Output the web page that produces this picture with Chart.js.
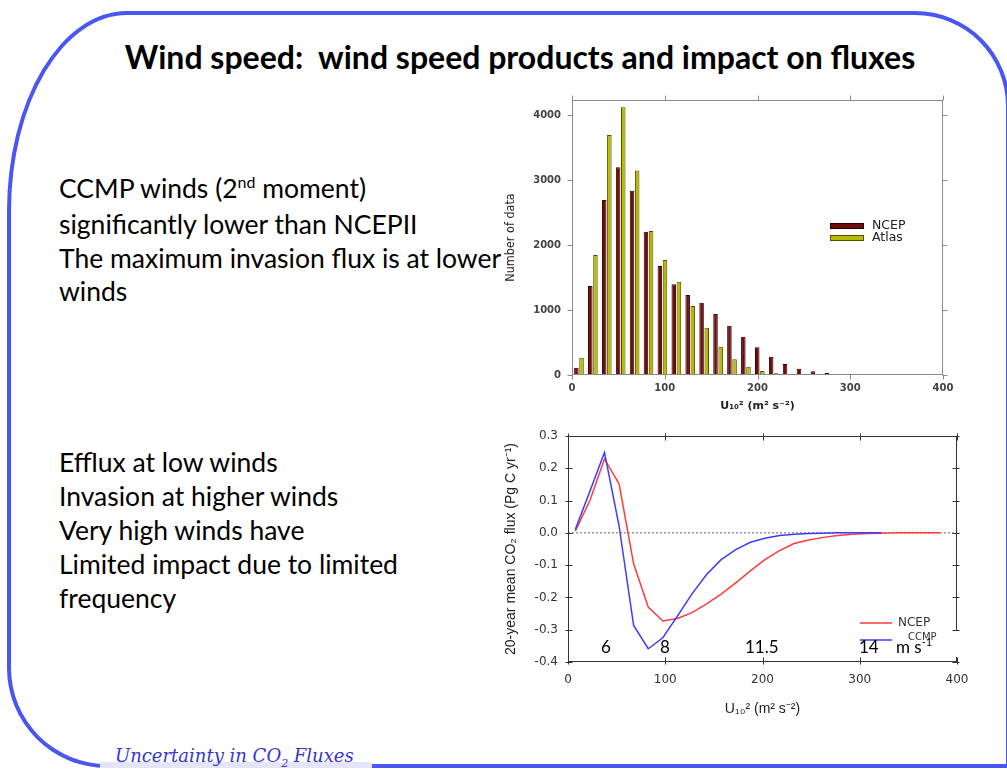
<!DOCTYPE html>
<html>
<head>
<meta charset="utf-8">
<script src="https://cdn.jsdelivr.net/npm/chart.js@4.4.1/dist/chart.umd.min.js"></script>
<style>
  html, body { margin: 0; padding: 0; background: #fff; }
  body { width: 1007px; height: 769px; position: relative; overflow: hidden; font-family: Lato, 'Open Sans', sans-serif; color: #000; }
  .frame { position: absolute; left: 7px; top: 11px; width: 1003px; height: 757px; box-sizing: border-box;
           border: 4px solid #4a56f2; border-radius: 120px 95px 0 100px / 200px 95px 0 100px; }
  .title { position: absolute; left: 0; width: 1040px; top: 37px; text-align: center; font-weight: bold; font-size: 32px; white-space: nowrap; }
  .txt { position: absolute; left: 59px; font-size: 26.5px; white-space: nowrap; }
  .txt sup { font-size: 16px; vertical-align: 0; position: relative; top: -10px; }
  .foot-bg { position: absolute; left: 100px; top: 762px; width: 272px; height: 6px; background: #e4e4fb; }
  .foot { position: absolute; left: 115px; top: 745px; font: italic 18px 'DejaVu Serif', serif; color: #3535d5; white-space: nowrap; }
  .wrap { position: absolute; }
  .note { position: absolute; top: 637px; font-size: 17px; line-height: 20px; white-space: nowrap; }
  .note sup { font-size: 11px; vertical-align: 0; position: relative; top: -7px; }
  .mask { position: absolute; left: 945px; top: 631px; width: 16px; height: 26px; background: #fff; }
</style>
</head>
<body>
<div class="frame"></div>
<div class="title">Wind speed:&nbsp; wind speed products and impact on fluxes</div>

<div class="txt" style="top:172px; line-height:33.3px;">
  CCMP winds (2<sup>nd</sup> moment)<br>
  significantly lower than NCEPII<br>
  The maximum invasion flux is at lower<br>
  winds
</div>
<div class="txt" style="top:445px; line-height:34px;">
  Efflux at low winds<br>
  Invasion at higher winds<br>
  Very high winds have<br>
  Limited impact due to limited<br>
  frequency
</div>

<div class="wrap" style="left:480px; top:90px;"><canvas id="hist" width="490" height="330"></canvas></div>
<div class="wrap" style="left:480px; top:420px;"><canvas id="flux" width="490" height="300"></canvas></div>

<div class="note" style="left:601px;">6</div>
<div class="note" style="left:660px;">8</div>
<div class="note" style="left:745px;">11.5</div>
<div class="mask"></div>
<div class="note" style="left:859px;">14</div>
<div class="note" style="left:896px;">m s<sup>-1</sup></div>

<div class="foot-bg"></div>
<div class="foot">Uncertainty in CO<sub style="font-size:11px">2</sub> Fluxes</div>

<script>
// U10^2 bin centres (m2 s-2), 15-wide bins
const binCenters = [7.5, 22.5, 37.5, 52.5, 67.5, 82.5, 97.5, 112.5, 127.5, 142.5, 157.5, 172.5, 187.5,
                    202.5, 217.5, 232.5, 247.5, 262.5, 277.5, 292.5, 307.5, 322.5, 337.5, 352.5, 367.5, 382.5];

// histogram counts
const ncepCounts  = [113, 1369, 2692, 3195, 2836, 2205, 1677, 1395, 1231, 1113, 938, 759, 590,
                     426, 282, 169, 97, 56, 30, 15, 8, 4, 0, 0, 0, 0];
const atlasCounts = [267, 1846, 3692, 4118, 3144, 2215, 1769, 1436, 1062, 728, 436, 241, 128,
                     62, 25, 8, 3, 0, 0, 0, 0, 0, 0, 0, 0, 0];

// 20-year mean CO2 flux per bin (Pg C / yr)
const ncepFlux = [0.005, 0.10, 0.229, 0.152, -0.096, -0.230, -0.273, -0.265, -0.247, -0.220, -0.190, -0.155, -0.118,
                  -0.083, -0.055, -0.033, -0.022, -0.014, -0.008, -0.004, -0.002, -0.001, 0, 0, 0, 0];
const ccmpFlux = [0.010, 0.129, 0.249, 0.022, -0.287, -0.359, -0.325, -0.258, -0.189, -0.129, -0.083, -0.052, -0.029,
                  -0.017, -0.008, -0.004, -0.002, -0.001, 0, 0, 0, 0];
const zeroX = [0, 400];
const zeroY = [0, 0];

// axis ticks
const windTicks  = [0, 100, 200, 300, 400];
const countTicks = [0, 1000, 2000, 3000, 4000];
const fluxTicks  = [-0.4, -0.3, -0.2, -0.1, 0, 0.1, 0.2, 0.3];

const pair = (xs, ys) => ys.map((y, i) => ({ x: xs[i], y: y }));
const useTicks = list => s => { s.ticks = list.map(v => ({ value: v })); };
// fixed axis box sizes so the plot area lands where the original is
const fixX = h => s => { s.height = h; s.paddingLeft = 0; s.paddingRight = 0; };
const fixY = w => s => { s.width = w; s.paddingTop = 0; s.paddingBottom = 0; };

// box round the plot area, with tick marks on all four sides
const frame = {
    id: 'frame',
    afterDatasetsDraw(chart, args, o) {
        const { ctx, chartArea: a } = chart;
        const sx = chart.scales.x, sy = chart.scales.y;
        const L = a.left + 0.5, R = a.right - 0.5, T = a.top + 0.5, B = a.bottom - 0.5;
        ctx.save();
        ctx.strokeStyle = o.color;
        ctx.lineWidth = 1;
        ctx.strokeRect(L, T, R - L, B - T);
        ctx.beginPath();
        sx.ticks.forEach(t => {
            const p = Math.round(sx.getPixelForValue(t.value)) + 0.5;
            ctx.moveTo(p, B + o.out); ctx.lineTo(p, B - o.in);
            ctx.moveTo(p, T - o.out); ctx.lineTo(p, T + o.in);
        });
        sy.ticks.forEach(t => {
            const p = Math.round(sy.getPixelForValue(t.value)) + 0.5;
            ctx.moveTo(L - o.out, p); ctx.lineTo(L + o.in, p);
            ctx.moveTo(R + o.out, p); ctx.lineTo(R - o.in, p);
        });
        ctx.stroke();
        ctx.restore();
    }
};

// small legend placed inside the plot
const key = {
    id: 'key',
    afterDatasetsDraw(chart, args, o) {
        const { ctx, chartArea: a } = chart;
        ctx.save();
        ctx.textBaseline = 'middle';
        o.items.forEach(it => {
            const ds = chart.data.datasets[it.index];
            const x = a.left + o.x, y = a.top + it.y;
            if (o.kind === 'box') {
                ctx.fillStyle = ds.backgroundColor;
                ctx.fillRect(x, y - o.h / 2, o.w, o.h);
                ctx.strokeStyle = ds.borderColor;
                ctx.lineWidth = 1;
                ctx.strokeRect(x + 0.5, y - o.h / 2 + 0.5, o.w - 1, o.h - 1);
            } else {
                ctx.strokeStyle = ds.borderColor;
                ctx.lineWidth = ds.borderWidth;
                ctx.beginPath();
                ctx.moveTo(x, y); ctx.lineTo(x + o.w, y);
                ctx.stroke();
            }
            ctx.fillStyle = o.color;
            ctx.font = it.font || o.font;
            ctx.fillText(ds.label, x + o.w + (it.dx !== undefined ? it.dx : o.pad), y + (it.dy || 0));
        });
        ctx.restore();
    }
};

const tickFont = { family: "'DejaVu Sans', sans-serif", size: 10, weight: 'bold' };

new Chart(document.getElementById('hist'), {
    type: 'bar',
    data: {
        datasets: [
            { label: 'NCEP', data: pair(binCenters, ncepCounts), backgroundColor: '#6f0c0c', borderColor: '#300000',
              borderWidth: 1, categoryPercentage: 0.74, barPercentage: 0.88 },
            { label: 'Atlas', data: pair(binCenters, atlasCounts), backgroundColor: '#b9b900', borderColor: '#4f4f00',
              borderWidth: 1, categoryPercentage: 0.74, barPercentage: 0.88 },
        ],
    },
    options: {
        responsive: false,
        animation: false,
        layout: { padding: { top: 10, right: 27, left: 0, bottom: 0 } },
        plugins: {
            legend: { display: false },
            tooltip: { enabled: false },
            frame: { color: '#8a8a8a', out: 5, in: 0 },
            key: {
                kind: 'box', x: 258, w: 34, h: 6, pad: 8, color: '#222',
                font: "12.5px 'DejaVu Sans', sans-serif",
                items: [{ index: 0, y: 126 }, { index: 1, y: 138 }],
            },
        },
        scales: {
            x: {
                type: 'linear', min: 0, max: 400, offset: false,
                grid: { display: false, drawTicks: false }, border: { display: false },
                afterBuildTicks: useTicks(windTicks),
                afterFit: fixX(45),
                ticks: { padding: 7, color: '#444', font: tickFont, maxRotation: 0, callback: v => String(v) },
                title: { display: true, text: 'U₁₀² (m² s⁻²)', color: '#222', padding: { bottom: 7 },
                         font: { family: "'DejaVu Sans', sans-serif", size: 11, weight: 'bold' } },
            },
            y: {
                min: 0, max: 4230,
                grid: { display: false, drawTicks: false }, border: { display: false },
                afterBuildTicks: useTicks(countTicks),
                afterFit: fixY(92),
                ticks: { padding: 11, color: '#444', font: tickFont, callback: v => String(v) },
                title: { display: true, text: 'Number of data', color: '#222', padding: { top: 23 },
                         font: { family: "'Liberation Sans Narrow', 'DejaVu Sans Condensed', sans-serif", size: 12.5 } },
            },
        },
    },
    plugins: [frame, key],
});

new Chart(document.getElementById('flux'), {
    type: 'line',
    data: {
        datasets: [
            { label: 'CCMP', data: pair(binCenters, ccmpFlux), borderColor: '#3b3bff', borderWidth: 1.5,
              pointRadius: 0, tension: 0 },
            { label: 'NCEP', data: pair(binCenters, ncepFlux), borderColor: '#ff3b3b', borderWidth: 1.5,
              pointRadius: 0, tension: 0 },
            { label: 'zero', data: pair(zeroX, zeroY), borderColor: '#666', borderWidth: 1, borderDash: [2, 2],
              pointRadius: 0 },
        ],
    },
    options: {
        responsive: false,
        animation: false,
        layout: { padding: { top: 16, right: 13, left: 0, bottom: 0 } },
        plugins: {
            legend: { display: false },
            tooltip: { enabled: false },
            frame: { color: '#333', out: 3, in: 4 },
            key: {
                kind: 'line', x: 292, w: 32, pad: 6, color: '#333',
                font: "12px 'DejaVu Sans', sans-serif",
                items: [{ index: 1, y: 187 }, { index: 0, y: 204, dx: 16, dy: -3, font: "10px 'DejaVu Sans', sans-serif" }],
            },
        },
        scales: {
            x: {
                type: 'linear', min: 0, max: 400,
                grid: { display: false, drawTicks: false }, border: { display: false },
                afterBuildTicks: useTicks(windTicks),
                afterFit: fixX(58),
                ticks: { padding: 11, color: '#333', font: { family: "'DejaVu Sans', sans-serif", size: 12 }, maxRotation: 0 },
                title: { display: true, text: 'U₁₀² (m² s⁻²)', color: '#222', padding: { bottom: 2 },
                         font: { family: "'Liberation Sans', sans-serif", size: 14 } },
            },
            y: {
                min: -0.4, max: 0.3,
                grid: { display: false, drawTicks: false }, border: { display: false },
                afterBuildTicks: useTicks(fluxTicks),
                afterFit: fixY(88),
                ticks: { padding: 10, color: '#333', font: { family: "'DejaVu Sans', sans-serif", size: 12 },
                         callback: v => (Math.abs(v) < 1e-9 ? 0 : v).toFixed(1) },
                title: { display: true, text: '20-year mean CO₂ flux (Pg C yr⁻¹)', color: '#222', padding: { top: 23 },
                         font: { family: "'Liberation Sans', sans-serif", size: 14 } },
            },
        },
    },
    plugins: [frame, key],
});
</script>
</body>
</html>
